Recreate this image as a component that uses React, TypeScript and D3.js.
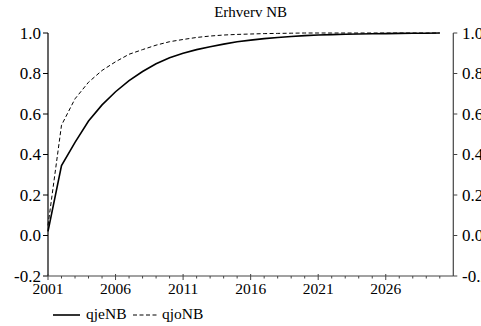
import React from "react";
import * as d3 from "d3";

const years: number[] = d3.range(2001, 2031);
const qjeNB: number[] = [
  0.02, 0.345, 0.46, 0.565, 0.645, 0.71, 0.765, 0.81, 0.848, 0.878,
  0.9, 0.918, 0.932, 0.945, 0.957, 0.965, 0.972, 0.978, 0.983, 0.987,
  0.99, 0.992, 0.994, 0.995, 0.996, 0.997, 0.998, 0.999, 0.999, 1.0,
];
const qjoNB: number[] = [
  0.05, 0.545, 0.675, 0.757, 0.815, 0.858, 0.895, 0.918, 0.94, 0.957,
  0.968, 0.978, 0.985, 0.99, 0.993, 0.995, 0.997, 0.998, 0.999, 1.0,
  1.0, 1.0, 1.0, 1.0, 1.0, 1.0, 1.0, 1.0, 1.0, 1.0,
];
const yTicks: number[] = [-0.2, 0.0, 0.2, 0.4, 0.6, 0.8, 1.0];
const xLabelYears: number[] = [2001, 2006, 2011, 2016, 2021, 2026];
const title = "Erhverv NB";
const seriesNames = ["qjeNB", "qjoNB"];

const W = 481;
const H = 326;
const left = 48;
const right = 453.3;
const top = 33;
const bottom = 276;
const font = '"Liberation Serif", "DejaVu Serif", "Times New Roman", serif';
const ts = { fontFamily: font } as React.CSSProperties;

export default function App() {
  const x = d3.scaleLinear().domain([2001, 2031]).range([left, right]);
  const y = d3.scaleLinear().domain([-0.2, 1.0]).range([bottom, top]);
  const line = d3
    .line<number>()
    .x((_, i) => x(years[i]))
    .y((d) => y(d));
  const axisColor = "#444";
  return (
    <svg
      width={W}
      height={H}
      style={{ position: "absolute", left: 0, top: 0, background: "#fff" }}
    >
      <rect x={0} y={0} width={W} height={H} fill="#fff" />
      <text x={(left + right) / 2} y={17} textAnchor="middle" fontSize={15} style={ts}>
        {title}
      </text>
      {/* left axis */}
      <line x1={left} x2={left} y1={top} y2={bottom} stroke="#000" strokeWidth={1.2} />
      {yTicks.map((t) => (
        <g key={"l" + t}>
          <line x1={left - 5} x2={left} y1={y(t)} y2={y(t)} stroke="#000" />
          <text x={41} y={y(t)} dy="0.35em" textAnchor="end" fontSize={17} style={ts}>
            {t.toFixed(1)}
          </text>
        </g>
      ))}
      {/* right axis */}
      <line x1={right} x2={right} y1={top} y2={bottom} stroke={axisColor} strokeWidth={1.2} />
      {yTicks.map((t) => (
        <g key={"r" + t}>
          <line x1={right} x2={right + 4} y1={y(t)} y2={y(t)} stroke={axisColor} />
          <text x={462} y={y(t)} dy="0.35em" textAnchor="start" fontSize={17} style={ts}>
            {t.toFixed(1)}
          </text>
        </g>
      ))}
      {/* x axis */}
      <line x1={left} x2={right} y1={bottom} y2={bottom} stroke={axisColor} strokeWidth={1.2} />
      {years.map((yr) => {
        const major = xLabelYears.includes(yr);
        return (
          <line
            key={"t" + yr}
            x1={x(yr)}
            x2={x(yr)}
            y1={major ? bottom - 2 : bottom}
            y2={bottom + (major ? 4 : 2.5)}
            stroke={axisColor}
          />
        );
      })}
      {xLabelYears.map((yr) => (
        <text key={"xl" + yr} x={x(yr)} y={294} textAnchor="middle" fontSize={15.5} style={ts}>
          {yr}
        </text>
      ))}
      {/* series */}
      <path d={line(qjoNB) || ""} fill="none" stroke="#000" strokeWidth={1} strokeDasharray="4,2.5" />
      <path d={line(qjeNB) || ""} fill="none" stroke="#000" strokeWidth={1.6} />
      {/* legend */}
      <line x1={53} x2={80} y1={315} y2={315} stroke="#000" strokeWidth={1.6} />
      <text x={86} y={319} fontSize={15.5} style={ts}>
        {seriesNames[0]}
      </text>
      <line x1={133} x2={157} y1={315} y2={315} stroke="#000" strokeWidth={1} strokeDasharray="4,2.5" />
      <text x={162} y={319} fontSize={15.5} style={ts}>
        {seriesNames[1]}
      </text>
    </svg>
  );
}
